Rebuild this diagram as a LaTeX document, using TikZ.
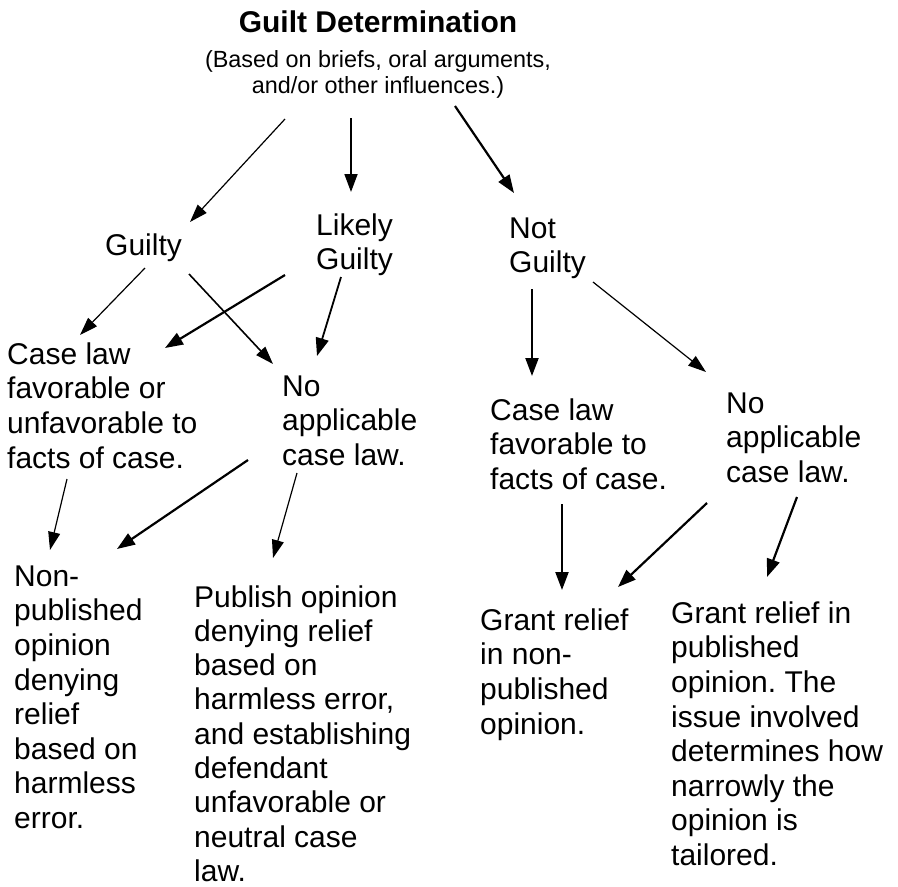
\documentclass[tikz,border=0pt]{standalone}
\usepackage{fontspec}
\setmainfont{Liberation Sans}
\frenchspacing
\usetikzlibrary{arrows.meta}
\tikzset{
  txt/.style={anchor=north west, inner sep=0pt, align=left, font={\fontsize{30}{34.6}\selectfont}},
  arr/.style={-{Triangle[length=18pt,width=12pt]}, line width=1.2pt},
  tarr/.style={-{Triangle[length=18pt,width=13pt]}, line width=2.2pt},
}
\begin{document}
\begin{tikzpicture}[x=1pt,y=-1pt]
\useasboundingbox (0,0) rectangle (898,887);
\node[anchor=base, inner sep=0pt, font={\fontsize{30}{34.6}\selectfont\bfseries}] (title) at (378,32) {Guilt Determination};
\node[anchor=north, inner sep=0pt, align=center, font={\fontsize{23.4}{26.5}\selectfont}] (sub) at (378,48.5) {\strut(Based on briefs, oral arguments,\\and/or other influences.)};
\node[txt] (guilty) at (105,230.8) {\strut Guilty};
\node[txt] (likely) at (316,210.8) {\strut Likely\\Guilty};
\node[txt] (notg) at (509,213.8) {\strut Not\\Guilty};
\node[txt] (caseL) at (7,339.8) {\strut Case law\\favorable or\\unfavorable to\\facts of case.};
\node[txt] (noL) at (282,371.8) {\strut No\\applicable\\case law.};
\node[txt] (caseR) at (490,395.8) {\strut Case law\\favorable to\\facts of case.};
\node[txt] (noR) at (726,388.8) {\strut No\\applicable\\case law.};
\node[txt] (nonpub) at (14,561.8) {\strut Non-\\published\\opinion\\denying\\relief\\based on\\harmless\\error.};
\node[txt, font={\fontsize{30}{34.3}\selectfont}] (pubop) at (194,582.8) {\strut Publish opinion\\denying relief\\based on\\harmless error,\\and establishing\\defendant\\unfavorable or\\neutral case\\law.};
\node[txt] (grant1) at (480,605.8) {\strut Grant relief\\in non-\\published\\opinion.};
\node[txt] (grant2) at (671,598.8) {\strut Grant relief in\\published\\opinion. The\\issue involved\\determines how\\narrowly the\\opinion is\\tailored.};
% from title
\draw[arr] ([shift={(-93,70.5)}]sub.north) -- ([shift={(85,-8.8)}]guilty.north west);
\draw[tarr, line width=1.8pt] ([shift={(-27,69.5)}]sub.north) -- ([shift={(35,-18.8)}]likely.north west);
\draw[tarr] ([shift={(77,57.5)}]sub.north) -- ([shift={(5,-20.8)}]notg.north west);
% from Guilty
\draw[arr] ([shift={(40,37.2)}]guilty.north west) -- ([shift={(73,-4.8)}]caseL.north west);
\draw[arr, line width=1.6pt] ([shift={(84,43.2)}]guilty.north west) -- ([shift={(-9,-7.8)}]noL.north west);
% from Likely Guilty
\draw[tarr] ([shift={(-31,64.2)}]likely.north west) -- ([shift={(158,8.2)}]caseL.north west);
\draw[tarr, line width=1.8pt] ([shift={(25,66.2)}]likely.north west) -- ([shift={(35,-15.8)}]noL.north west);
% from Not Guilty
\draw[tarr] ([shift={(23,75.2)}]notg.north west) -- ([shift={(42,-19.8)}]caseR.north west);
\draw[arr] ([shift={(84,68.2)}]notg.north west) -- ([shift={(-20,-16.8)}]noR.north west);
% second level
\draw[arr] ([shift={(60,139.2)}]caseL.north west) -- ([shift={(36,-11.8)}]nonpub.north west);
\draw[tarr] ([shift={(-34,88.2)}]noL.north west) -- ([shift={(103,-12.8)}]nonpub.north west);
\draw[arr] ([shift={(15,101.2)}]noL.north west) -- ([shift={(79,-24.8)}]pubop.north west);
\draw[tarr] ([shift={(72,108.2)}]caseR.north west) -- ([shift={(82,-15.8)}]grant1.north west);
\draw[tarr] ([shift={(-19,114.2)}]noR.north west) -- ([shift={(138,-18.8)}]grant1.north west);
\draw[tarr] ([shift={(71,108.2)}]noR.north west) -- ([shift={(96,-21.8)}]grant2.north west);
\end{tikzpicture}
\end{document}
